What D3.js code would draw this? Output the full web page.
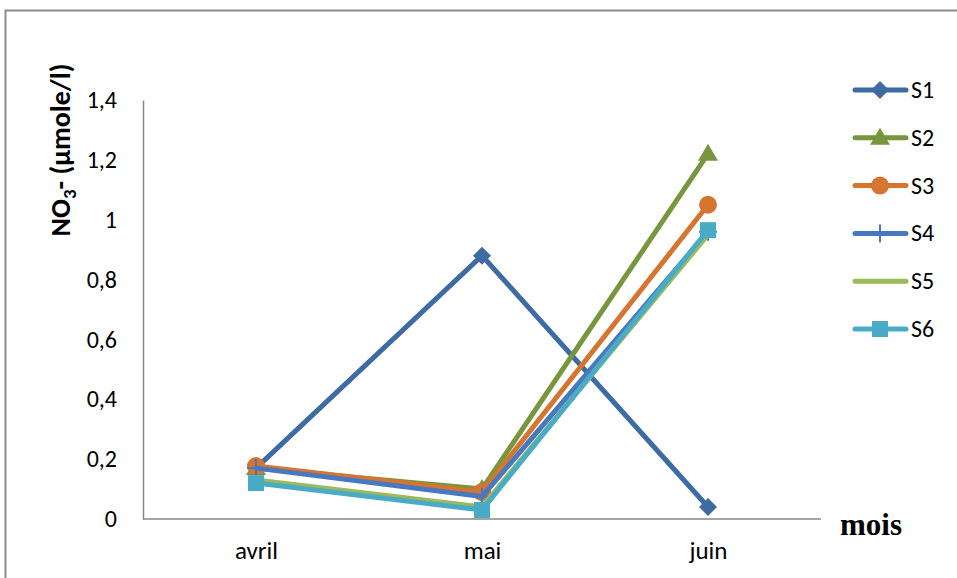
<!DOCTYPE html>
<html>
<head>
<meta charset="utf-8">
<script src="https://cdn.jsdelivr.net/npm/d3@7/dist/d3.min.js"></script>
<style>
  html, body { margin: 0; padding: 0; background: #fff; }
  svg { display: block; }
  text { font-family: Carlito, "Open Sans", "Liberation Sans", sans-serif; }
</style>
</head>
<body>
<svg id="chart" width="957" height="578"></svg>
<script>
// Nitrate concentration per station, by month
const months = ["avril", "mai", "juin"];
const s1 = [0.17, 0.88, 0.04];
const s2 = [0.17, 0.10, 1.22];
const s3 = [0.177, 0.09, 1.05];
const s4 = [0.17, 0.075, 0.96];
const s5 = [0.13, 0.04, 0.95];
const s6 = [0.12, 0.03, 0.965];
const yTicks = [0, 0.2, 0.4, 0.6, 0.8, 1, 1.2, 1.4];

const series = [
  { name: "S1", values: s1, color: "#3E6BA3", marker: "diamond" },
  { name: "S2", values: s2, color: "#77963D", marker: "triangle" },
  { name: "S3", values: s3, color: "#D5752F", marker: "circle" },
  { name: "S4", values: s4, color: "#4879BE", marker: "plus" },
  { name: "S5", values: s5, color: "#9BBB59", marker: "none" },
  { name: "S6", values: s6, color: "#4AABC6", marker: "square" }
];

const svg = d3.select("#chart");

// outer frame
svg.append("rect")
  .attr("x", 5.5).attr("y", 10.5)
  .attr("width", 1000).attr("height", 600)
  .attr("fill", "none").attr("stroke", "#8c8c8c").attr("stroke-width", 2);

const plot = { left: 143, right: 821, top: 100, bottom: 519 };

const x = d3.scalePoint().domain(months).range([plot.left, plot.right]).padding(0.5);
const y = d3.scaleLinear().domain([0, 1.4]).range([plot.bottom, plot.top]);

const fmt = d => String(d).replace(".", ",");

// y axis
const yAxis = svg.append("g").attr("transform", `translate(${plot.left},0)`)
  .call(d3.axisLeft(y).tickValues(yTicks).tickSize(0).tickPadding(26).tickFormat(fmt));
yAxis.select(".domain").attr("stroke", "#878787").attr("stroke-width", 1.5);
yAxis.selectAll("text").style("font-size", "24px").attr("fill", "#000");

// x axis
const xAxis = svg.append("g").attr("transform", `translate(0,${plot.bottom})`)
  .call(d3.axisBottom(x).tickSize(0).tickPadding(22));
xAxis.select(".domain").attr("stroke", "#878787").attr("stroke-width", 1.5)
  .attr("d", `M${plot.left},0H${plot.right}`);
xAxis.selectAll("text").style("font-size", "25px").attr("fill", "#000");

// y axis title
const yt = svg.append("text")
  .attr("transform", "translate(70,150) rotate(-90)")
  .attr("text-anchor", "middle")
  .style("font-size", "28px").attr("font-weight", "bold").attr("fill", "#000");
yt.append("tspan").text("NO");
yt.append("tspan").style("font-size", "19px").attr("dy", 6).text("3");
yt.append("tspan").attr("dy", -6).text("- (µmole/l)");

// x axis title
svg.append("text")
  .attr("x", 840).attr("y", 535)
  .style("font-size", "31px").attr("font-weight", "bold").attr("fill", "#000")
  .style("font-family", "'Liberation Serif', 'DejaVu Serif', serif")
  .text("mois");

function drawMarker(g, type, color, cx, cy) {
  if (type === "diamond") {
    g.append("path").attr("d", `M${cx},${cy - 9}L${cx + 9},${cy}L${cx},${cy + 9}L${cx - 9},${cy}Z`)
      .attr("fill", color);
  } else if (type === "triangle") {
    g.append("path").attr("d", `M${cx},${cy - 10}L${cx + 10},${cy + 7}L${cx - 10},${cy + 7}Z`)
      .attr("fill", color);
  } else if (type === "circle") {
    g.append("circle").attr("cx", cx).attr("cy", cy).attr("r", 9).attr("fill", color);
  } else if (type === "plus") {
    g.append("path").attr("d", `M${cx},${cy - 9}V${cy + 9}M${cx - 9},${cy}H${cx + 9}`)
      .attr("stroke", color).attr("stroke-width", 2);
  } else if (type === "square") {
    g.append("rect").attr("x", cx - 8).attr("y", cy - 8).attr("width", 16).attr("height", 16)
      .attr("fill", color);
  }
}

const line = d3.line().x((d, i) => x(months[i])).y(d => y(d));

series.forEach(s => {
  const g = svg.append("g");
  g.append("path").datum(s.values)
    .attr("d", line)
    .attr("fill", "none").attr("stroke", s.color).attr("stroke-width", 5)
    .attr("stroke-linejoin", "round").attr("stroke-linecap", "round");
  s.values.forEach((v, i) => drawMarker(g, s.marker, s.color, x(months[i]), y(v)));
});

// legend
const legend = svg.append("g");
series.forEach((s, i) => {
  const ly = 90 + i * 47.8;
  const g = legend.append("g");
  g.append("line").attr("x1", 855).attr("x2", 906).attr("y1", ly).attr("y2", ly)
    .attr("stroke", s.color).attr("stroke-width", 5).attr("stroke-linecap", "round");
  drawMarker(g, s.marker, s.color, 880, ly);
  g.append("text").attr("x", 911).attr("y", ly + 8)
    .style("font-size", "24px").attr("fill", "#000").text(s.name);
});
</script>
</body>
</html>
